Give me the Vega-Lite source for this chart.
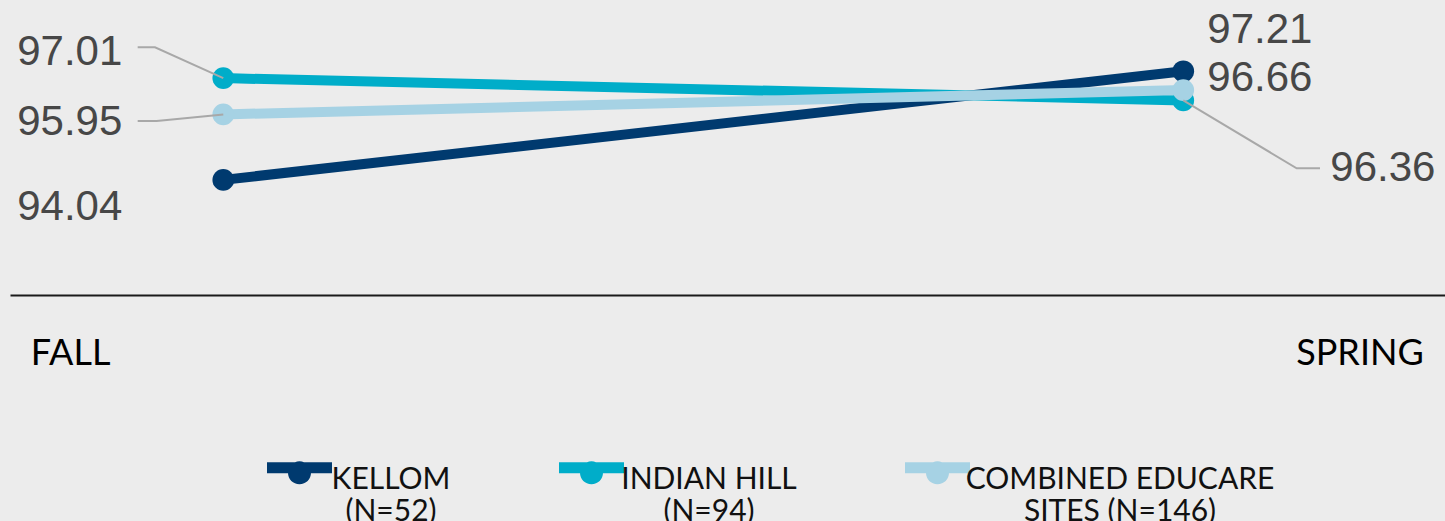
{
  "$schema": "https://vega.github.io/schema/vega-lite/v6.json",
  "width": 1435,
  "height": 295,
  "autosize": {"type": "none"},
  "padding": {"left": 10, "top": 0, "right": 0, "bottom": 226},
  "background": "#ececec",
  "config": {"view": {"stroke": null}},
  "data": {
    "values": [
      {"period": "FALL", "series": "KELLOM (N=52)", "value": 94.04},
      {"period": "FALL", "series": "INDIAN HILL (N=94)", "value": 97.01},
      {"period": "FALL", "series": "COMBINED EDUCARE SITES (N=146)", "value": 95.95},
      {"period": "SPRING", "series": "KELLOM (N=52)", "value": 97.21},
      {"period": "SPRING", "series": "INDIAN HILL (N=94)", "value": 96.36},
      {"period": "SPRING", "series": "COMBINED EDUCARE SITES (N=146)", "value": 96.66}
    ]
  },
  "encoding": {
    "x": {
      "field": "period",
      "type": "nominal",
      "sort": ["FALL", "SPRING"],
      "scale": {"type": "point", "padding": 0.2474, "align": 0.449},
      "axis": {
        "title": null,
        "grid": false,
        "ticks": false,
        "tickSize": 0,
        "domainColor": "#1a1a1a",
        "domainWidth": 2,
        "labelAngle": 0,
        "labelOverlap": false,
        "labelFont": "Lato",
        "labelFontWeight": 400,
        "labelFontSize": 36,
        "labelColor": "#000000",
        "labelBaseline": "alphabetic",
        "labelPadding": 69,
        "labelAlign": {"condition": {"test": "datum.value === 'FALL'", "value": "left"}, "value": "right"},
        "labelOffset": {"condition": {"test": "datum.value === 'FALL'", "value": -193}, "value": 240}
      }
    },
    "y": {
      "field": "value",
      "type": "quantitative",
      "scale": {"domain": [90.68, 99.29], "zero": false, "nice": false},
      "axis": null
    }
  },
  "layer": [
    {
      "mark": {"type": "line", "strokeWidth": 10},
      "encoding": {
        "color": {
          "field": "series",
          "type": "nominal",
          "sort": ["KELLOM (N=52)", "INDIAN HILL (N=94)", "COMBINED EDUCARE SITES (N=146)"],
          "scale": {"domain": ["KELLOM (N=52)", "INDIAN HILL (N=94)", "COMBINED EDUCARE SITES (N=146)"], "range": ["#003a6f", "#00adc9", "#a6d2e4"]},
          "legend": {
            "title": null,
            "orient": "none",
            "legendX": 257,
            "legendY": 435,
            "direction": "horizontal",
            "columns": 3,
            "padding": 0,
            "columnPadding": 108,
            "symbolType": "M-1,-0.17L1,-0.17L1,0.17L-1,0.17Z M-0.354,0.154A0.354,0.354 0 1,1 0.354,0.154A0.354,0.354 0 1,1 -0.354,0.154Z",
            "symbolSize": 4225,
            "symbolStrokeWidth": 0,
            "symbolOpacity": 1,
            "labelFont": "Lato",
            "labelFontWeight": 400,
            "labelFontSize": 30,
            "labelColor": "#111111",
            "labelOffset": 3,
            "labelLimit": 0,
            "labelBaseline": "alphabetic",
            "labelExpr": "datum.label === 'COMBINED EDUCARE SITES (N=146)' ? ['COMBINED EDUCARE', 'SITES (N=146)'] : split(replace(datum.label, ' (', '|('), '|')",
            "encode": {
              "symbols": {"update": {"fill": {"scale": "color", "field": "value"}, "strokeWidth": {"value": 0}}},
              "labels": {
                "update": {
                  "align": {"value": "center"},
                  "lineHeight": {"value": 32},
                  "dy": {"value": 21},
                  "dx": {"signal": "datum.value === 'KELLOM (N=52)' ? 56 : datum.value === 'INDIAN HILL (N=94)' ? 82 : 147"}
                }
              }
            }
          }
        }
      }
    },
    {
      "mark": {"type": "point", "filled": true, "size": 470, "opacity": 1},
      "encoding": {
        "color": {
          "field": "series",
          "type": "nominal",
          "sort": ["KELLOM (N=52)", "INDIAN HILL (N=94)", "COMBINED EDUCARE SITES (N=146)"],
          "scale": {"domain": ["KELLOM (N=52)", "INDIAN HILL (N=94)", "COMBINED EDUCARE SITES (N=146)"], "range": ["#003a6f", "#00adc9", "#a6d2e4"]},
          "legend": {
            "title": null,
            "orient": "none",
            "legendX": 257,
            "legendY": 435,
            "direction": "horizontal",
            "columns": 3,
            "padding": 0,
            "columnPadding": 108,
            "symbolType": "M-1,-0.17L1,-0.17L1,0.17L-1,0.17Z M-0.354,0.154A0.354,0.354 0 1,1 0.354,0.154A0.354,0.354 0 1,1 -0.354,0.154Z",
            "symbolSize": 4225,
            "symbolStrokeWidth": 0,
            "symbolOpacity": 1,
            "labelFont": "Lato",
            "labelFontWeight": 400,
            "labelFontSize": 30,
            "labelColor": "#111111",
            "labelOffset": 3,
            "labelLimit": 0,
            "labelBaseline": "alphabetic",
            "labelExpr": "datum.label === 'COMBINED EDUCARE SITES (N=146)' ? ['COMBINED EDUCARE', 'SITES (N=146)'] : split(replace(datum.label, ' (', '|('), '|')",
            "encode": {
              "symbols": {"update": {"fill": {"scale": "color", "field": "value"}, "strokeWidth": {"value": 0}}},
              "labels": {
                "update": {
                  "align": {"value": "center"},
                  "lineHeight": {"value": 32},
                  "dy": {"value": 21},
                  "dx": {"signal": "datum.value === 'KELLOM (N=52)' ? 56 : datum.value === 'INDIAN HILL (N=94)' ? 82 : 147"}
                }
              }
            }
          }
        }
      }
    },
    {
      "transform": [{"filter": "datum.series === 'INDIAN HILL (N=94)' && datum.period === 'FALL'"}],
      "mark": {"type": "point", "shape": "M0,0L-0.683,-0.308L-0.856,-0.308", "size": 40000, "filled": false, "stroke": "#a8a8a8", "strokeWidth": 2, "opacity": 1},
      "encoding": {}
    },
    {
      "transform": [{"filter": "datum.series === 'COMBINED EDUCARE SITES (N=146)' && datum.period === 'FALL'"}],
      "mark": {"type": "point", "shape": "M0,0L-0.666,0.066L-0.856,0.066", "size": 40000, "filled": false, "stroke": "#a8a8a8", "strokeWidth": 2, "opacity": 1},
      "encoding": {}
    },
    {
      "transform": [{"filter": "datum.series === 'INDIAN HILL (N=94)' && datum.period === 'SPRING'"}],
      "mark": {"type": "point", "shape": "M0,0L1.134,0.679L1.367,0.679", "size": 40000, "filled": false, "stroke": "#a8a8a8", "strokeWidth": 2, "opacity": 1},
      "encoding": {}
    },
    {
      "transform": [{"filter": "datum.series === 'INDIAN HILL (N=94)' && datum.period === 'FALL'"}],
      "mark": {"type": "text", "align": "right", "baseline": "alphabetic", "dx": -101, "dy": -13, "font": "Liberation Sans", "fontSize": 42, "fill": "#474747"},
      "encoding": {"text": {"field": "value", "type": "quantitative", "format": ".2f"}}
    },
    {
      "transform": [{"filter": "datum.series === 'COMBINED EDUCARE SITES (N=146)' && datum.period === 'FALL'"}],
      "mark": {"type": "text", "align": "right", "baseline": "alphabetic", "dx": -101, "dy": 21, "font": "Liberation Sans", "fontSize": 42, "fill": "#474747"},
      "encoding": {"text": {"field": "value", "type": "quantitative", "format": ".2f"}}
    },
    {
      "transform": [{"filter": "datum.series === 'KELLOM (N=52)' && datum.period === 'FALL'"}],
      "mark": {"type": "text", "align": "right", "baseline": "alphabetic", "dx": -101, "dy": 40, "font": "Liberation Sans", "fontSize": 42, "fill": "#474747"},
      "encoding": {"text": {"field": "value", "type": "quantitative", "format": ".2f"}}
    },
    {
      "transform": [{"filter": "datum.series === 'KELLOM (N=52)' && datum.period === 'SPRING'"}],
      "mark": {"type": "text", "align": "left", "baseline": "alphabetic", "dx": 24, "dy": -28, "font": "Liberation Sans", "fontSize": 42, "fill": "#474747"},
      "encoding": {"text": {"field": "value", "type": "quantitative", "format": ".2f"}}
    },
    {
      "transform": [{"filter": "datum.series === 'COMBINED EDUCARE SITES (N=146)' && datum.period === 'SPRING'"}],
      "mark": {"type": "text", "align": "left", "baseline": "alphabetic", "dx": 24, "dy": 1, "font": "Liberation Sans", "fontSize": 42, "fill": "#474747"},
      "encoding": {"text": {"field": "value", "type": "quantitative", "format": ".2f"}}
    },
    {
      "transform": [{"filter": "datum.series === 'INDIAN HILL (N=94)' && datum.period === 'SPRING'"}],
      "mark": {"type": "text", "align": "left", "baseline": "alphabetic", "dx": 147, "dy": 81, "font": "Liberation Sans", "fontSize": 42, "fill": "#474747"},
      "encoding": {"text": {"field": "value", "type": "quantitative", "format": ".2f"}}
    }
  ]
}
